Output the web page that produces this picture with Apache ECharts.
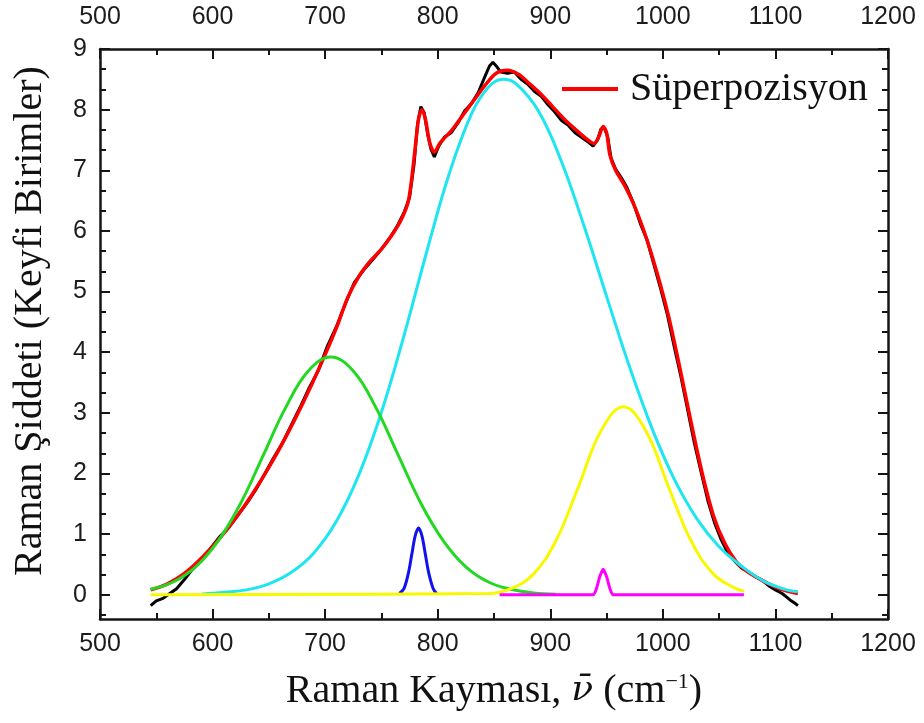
<!DOCTYPE html>
<html>
<head>
<meta charset="utf-8">
<script src="https://cdn.jsdelivr.net/npm/echarts@6/dist/echarts.min.js"></script>
<style>
  html, body { margin: 0; padding: 0; background: #fff; }
  #chart { width: 924px; height: 723px; }
</style>
</head>
<body>
<div id="chart"></div>
<script>
// Raman spectrum (measured) and its Gaussian deconvolution
const expX = [545,550,556,562,568,575,582,590,598,606,614,622,630,638,646,654,662,670,678,686,694,702,710,718,726,734,742,750,758,764,770,775,779,782,785,788,791,794,797,801,806,812,818,824,830,836,842,846,849,852,856,862,868,874,880,886,892,898,904,910,916,922,928,934,938,942,945,948,951,954,958,963,968,974,980,986,992,998,1004,1010,1016,1022,1028,1034,1040,1046,1052,1058,1064,1070,1076,1082,1088,1094,1100,1106,1110,1114,1118,1120];
const expY = [-0.18,-0.1,-0.06,0.02,0.1,0.25,0.42,0.58,0.76,0.95,1.1,1.3,1.5,1.72,1.98,2.25,2.5,2.8,3.1,3.42,3.7,4.1,4.42,4.8,5.15,5.35,5.52,5.7,5.9,6.08,6.3,6.55,7.1,7.75,8.05,7.95,7.6,7.35,7.22,7.4,7.55,7.62,7.78,7.98,8.1,8.28,8.55,8.72,8.78,8.72,8.62,8.6,8.62,8.5,8.42,8.3,8.22,8.08,7.96,7.82,7.74,7.62,7.54,7.46,7.4,7.5,7.68,7.7,7.55,7.2,7.02,6.88,6.72,6.45,6.12,5.85,5.45,5.05,4.62,4.1,3.6,3.05,2.5,2.02,1.55,1.18,0.9,0.68,0.55,0.44,0.38,0.3,0.24,0.15,0.08,0.02,-0.04,-0.1,-0.15,-0.18];

const sumX = [545,560,575,590,605,620,635,650,665,680,695,710,720,730,740,750,760,768,774,779,783,786,789,793,797,802,812,822,832,842,852,862,872,882,892,902,912,922,932,939,943,947,950,953,958,966,975,985,995,1005,1015,1025,1035,1045,1055,1065,1075,1085,1095,1105,1115,1120];
const sumY = [0.08,0.18,0.35,0.6,0.9,1.25,1.65,2.1,2.6,3.15,3.75,4.4,4.9,5.25,5.5,5.7,5.95,6.2,6.5,7.2,7.85,8.0,7.85,7.45,7.3,7.45,7.65,7.9,8.15,8.4,8.6,8.65,8.58,8.42,8.25,8.05,7.85,7.68,7.52,7.44,7.55,7.72,7.62,7.25,7.0,6.75,6.4,5.9,5.3,4.6,3.75,2.85,2.0,1.3,0.85,0.55,0.38,0.27,0.17,0.09,0.04,0.02];

// Band 1 (~705 cm-1)
const g1X = [545,565,585,605,625,645,665,685,705,725,745,765,785,805,825,845,865,885,905];
const g1Y = [0.09,0.21,0.46,0.89,1.51,2.30,3.09,3.69,3.92,3.69,3.09,2.30,1.51,0.89,0.46,0.21,0.09,0.03,0.01];
// Band 2 (~858 cm-1)
const g2X = [590,610,630,650,670,690,710,730,750,770,790,810,830,845,858,870,890,910,930,950,970,990,1010,1030,1050,1070,1090,1110,1120];
const g2Y = [0.01,0.04,0.08,0.18,0.37,0.69,1.21,1.98,3.01,4.27,5.64,6.93,7.93,8.37,8.5,8.42,7.96,7.14,6.08,4.92,3.78,2.76,1.91,1.26,0.79,0.47,0.22,0.08,0.05];
// Band 3 (~783 cm-1)
const g3X = [766,770,774,777,780,783,786,789,792,796,799];
const g3Y = [0.02,0.1,0.36,0.67,0.97,1.1,0.97,0.67,0.36,0.1,0.02];
// Band 4 (~947 cm-1)
const g4X = [855,938,941,944,947,950,953,956,1072];
const g4Y = [0,0,0.1,0.3,0.42,0.3,0.1,0,0];
// Band 5 (~965 cm-1)
const g5X = [545,845,865,885,905,925,945,965,985,1005,1025,1045,1065,1072];
const g5Y = [0,0.02,0.1,0.34,0.89,1.78,2.7,3.1,2.7,1.78,0.89,0.34,0.1,0.06];

const yMajor = [0,1,2,3,4,5,6,7,8,9];
const yMinor = [-0.3333,0.3333,0.6667,1.3333,1.6667,2.3333,2.6667,3.3333,3.6667,4.3333,4.6667,5.3333,5.6667,6.3333,6.6667,7.3333,7.6667,8.3333,8.6667];

const pairs = (xs, ys) => xs.map((x, i) => [x, ys[i]]);

const AX = '#151515';
const tickFont = { fontFamily: 'Liberation Sans', fontSize: 25, color: '#1c1c1c', formatter: v => String(v) };
const serif = 'Liberation Serif';

function xAxisDef(pos, withName) {
  return {
    type: 'value', position: pos, min: 500, max: 1200, interval: 100,
    axisLine: { show: true, onZero: false, lineStyle: { color: AX, width: 2.5 } },
    axisTick: { show: true, inside: true, length: 10, lineStyle: { color: AX, width: 2 } },
    minorTick: { show: true, splitNumber: 2, length: 6, lineStyle: { color: AX, width: 2 } },
    splitLine: { show: false },
    axisLabel: Object.assign({ margin: pos === 'top' ? 19 : 13 }, tickFont),
    name: withName ? '{a|Raman Kayması, }{i|ν̄}{a|\u00a0(cm}{s|−1}{a|)}' : '',
    nameLocation: 'middle', nameGap: 52,
    nameTextStyle: {
      rich: {
        a: { fontFamily: serif, fontSize: 40, color: '#111' },
        i: { fontFamily: 'DejaVu Serif', fontSize: 36, fontStyle: 'italic', color: '#111' },
        s: { fontFamily: serif, fontSize: 22, color: '#111', verticalAlign: 'top', padding: [0, 0, 16, 0] }
      }
    }
  };
}

function yAxisDef(pos, opts) {
  return Object.assign({
    type: 'value', position: pos, min: -0.4, max: 9,
    axisLine: { show: true, lineStyle: { color: AX, width: 2.5 } },
    splitLine: { show: false },
    axisTick: { show: true, inside: true, length: 10, customValues: yMajor, lineStyle: { color: AX, width: 2 } },
    axisLabel: { show: false }
  }, opts);
}

const chart = echarts.init(document.getElementById('chart'), null, { renderer: 'canvas' });
const lineBase = { type: 'line', showSymbol: false, symbol: 'none', xAxisIndex: 0, yAxisIndex: 0, animation: false };

chart.setOption({
  backgroundColor: '#fff',
  animation: false,
  grid: { left: 100, right: 36, top: 49, bottom: 104, containLabel: false },
  legend: {
    data: ['Süperpozisyon'], left: 562, top: 69, padding: 0, icon: 'rect', itemWidth: 56, itemHeight: 4,
    textStyle: { fontFamily: serif, fontSize: 40, color: '#111', padding: [0, 0, 0, 7] }
  },
  xAxis: [xAxisDef('bottom', true), xAxisDef('top', false)],
  yAxis: [
    yAxisDef('left', {
      axisLabel: Object.assign({ show: true, margin: 13, customValues: yMajor }, tickFont),
      name: 'Raman Şiddeti (Keyfi Birimler)', nameLocation: 'middle', nameGap: 50,
      nameTextStyle: { fontFamily: serif, fontSize: 40, color: '#111', padding: [0, 0, 0, 26] }
    }),
    yAxisDef('right', {}),
    yAxisDef('left', { axisLine: { show: false }, axisTick: { show: true, inside: true, length: 6, customValues: yMinor, lineStyle: { color: AX, width: 2 } } }),
    yAxisDef('right', { axisLine: { show: false }, axisTick: { show: true, inside: true, length: 6, customValues: yMinor, lineStyle: { color: AX, width: 2 } } })
  ],
  series: [
    Object.assign({ name: 'Deney', data: pairs(expX, expY), lineStyle: { color: '#000', width: 3 }, z: 2 }, lineBase),
    Object.assign({ name: 'Süperpozisyon', data: pairs(sumX, sumY), smooth: 0.3, itemStyle: { color: '#ff0000' }, lineStyle: { color: '#ff0000', width: 3.5 }, z: 3 }, lineBase),
    Object.assign({ name: 'g2', data: pairs(g2X, g2Y), smooth: 0.4, lineStyle: { color: '#1ee6f0', width: 3 }, z: 4 }, lineBase),
    Object.assign({ name: 'g1', data: pairs(g1X, g1Y), smooth: 0.4, lineStyle: { color: '#22d822', width: 3 }, z: 4 }, lineBase),
    Object.assign({ name: 'g3', data: pairs(g3X, g3Y), smooth: 0.3, lineStyle: { color: '#1212f0', width: 3 }, z: 5 }, lineBase),
    Object.assign({ name: 'g5', data: pairs(g5X, g5Y), smooth: 0.4, lineStyle: { color: '#f8f800', width: 3 }, z: 6 }, lineBase),
    Object.assign({ name: 'g4', data: pairs(g4X, g4Y), smooth: 0.2, lineStyle: { color: '#ff00ff', width: 3 }, z: 7 }, lineBase)
  ]
});
</script>
</body>
</html>
